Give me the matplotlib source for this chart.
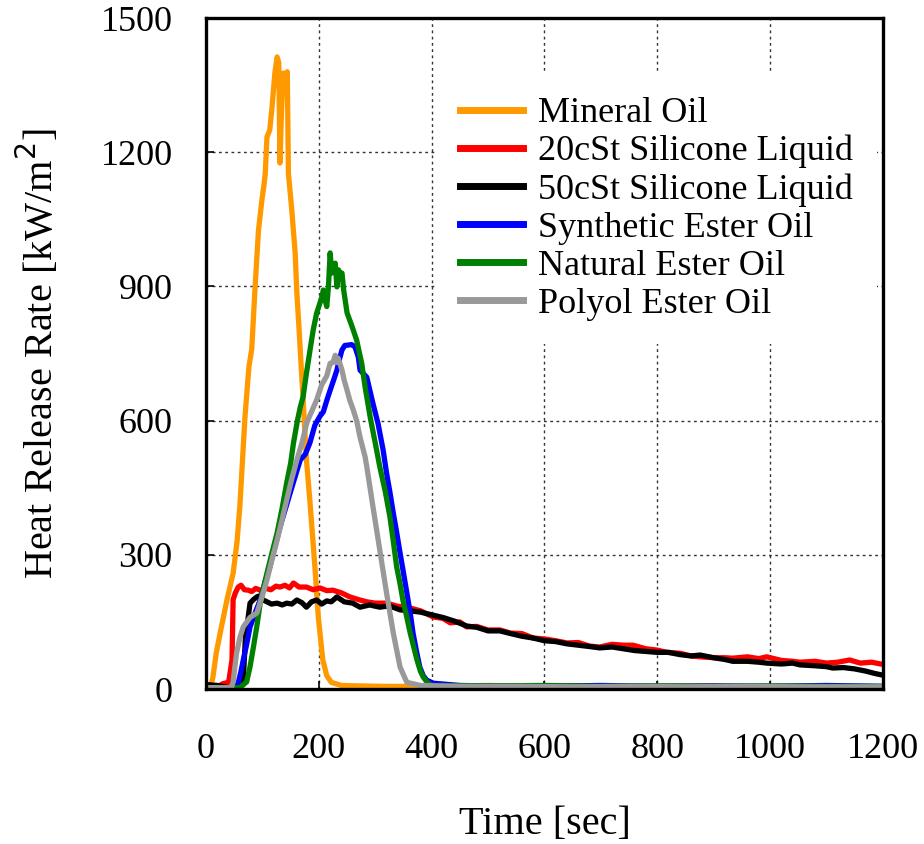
import matplotlib.pyplot as plt

# ---------------- data (time [s], HRR [kW/m2]) ----------------
mineral_t = [0, 8, 12, 18, 25, 37, 48, 55, 60, 69, 76, 81, 87, 93, 99, 103, 105, 108, 113,
             117, 122, 126, 129, 131, 134, 137, 140, 144, 146, 152, 158, 161, 165, 168, 172,
             178, 184, 193, 199, 207, 214, 222, 240, 270, 320, 400, 500, 600, 700, 800, 900,
             1000, 1100, 1200]
mineral_y = [5, 5, 25, 80, 125, 199, 259, 330, 410, 608, 720, 760, 900, 1026, 1093, 1130,
             1153, 1234, 1250, 1301, 1377, 1413, 1400, 1176, 1300, 1377, 1370, 1380, 1153,
             1071, 975, 885, 803, 735, 650, 512, 422, 273, 161, 65, 30, 15, 8, 7, 6, 6, 8, 6,
             7, 6, 7, 5, 5, 4]

sil20_t = [0, 20, 30, 40, 46, 48, 52, 57, 62, 68, 75, 81, 88, 96, 106, 115, 124, 131, 140,
           148, 155, 165, 178, 190, 202, 214, 225, 240, 255, 270, 285, 300, 320, 340, 356,
           380, 403, 420, 433, 450, 462, 480, 500, 521, 540, 560, 580, 600, 620, 640, 660,
           680, 698, 720, 740, 757, 780, 800, 817, 840, 860, 876, 900, 920, 934, 960, 980,
           994, 1020, 1040, 1053, 1080, 1100, 1120, 1141, 1160, 1180, 1200]
sil20_y = [8, 5, 12, 15, 65, 200, 215, 228, 232, 222, 221, 218, 225, 221, 225, 222, 230, 228,
           232, 226, 237, 228, 228, 222, 226, 220, 221, 215, 206, 200, 195, 192, 192, 185,
           183, 175, 161, 158, 148, 150, 139, 140, 132, 132, 125, 124, 114, 112, 108, 103,
           104, 96, 94, 100, 98, 98, 90, 87, 82, 80, 74, 72, 70, 70, 69, 72, 68, 72, 64, 62,
           60, 62, 58, 60, 65, 58, 60, 55]

sil50_t = [0, 20, 40, 60, 66, 70, 74, 78, 84, 90, 94, 100, 108, 116, 126, 135, 143, 152, 161,
           170, 178, 187, 196, 205, 214, 222, 232, 245, 260, 273, 290, 308, 325, 344, 360,
           380, 403, 420, 440, 462, 480, 500, 521, 540, 560, 580, 600, 620, 640, 660, 680,
           698, 720, 740, 760, 780, 800, 820, 840, 860, 876, 900, 920, 934, 960, 980, 994,
           1020, 1040, 1053, 1080, 1100, 1111, 1130, 1150, 1170, 1185, 1200]
sil50_y = [10, 8, 3, 3, 20, 120, 154, 192, 200, 206, 208, 200, 195, 190, 192, 188, 192, 190,
           199, 193, 183, 195, 199, 190, 197, 195, 206, 195, 192, 183, 188, 183, 186, 177,
           175, 172, 165, 160, 152, 141, 138, 130, 130, 124, 118, 114, 108, 106, 101, 98, 95,
           92, 94, 90, 86, 84, 82, 82, 77, 74, 76, 70, 66, 62, 62, 60, 58, 56, 58, 54, 52,
           50, 47, 48, 45, 40, 35, 31]

synth_t = [0, 50, 57, 62, 66, 72, 78, 87, 96, 104, 113, 122, 131, 140, 149, 158, 167, 176,
           184, 193, 202, 208, 214, 220, 226, 232, 236, 241, 246, 252, 258, 264, 270, 273,
           279, 285, 290, 296, 305, 314, 320, 326, 332, 338, 344, 350, 356, 362, 367, 373,
           379, 385, 391, 403, 450, 500, 600, 700, 800, 900, 1000, 1100, 1200]
synth_y = [3, 3, 13, 40, 65, 100, 139, 170, 199, 236, 273, 318, 362, 400, 438, 475, 512, 525,
           550, 590, 610, 620, 645, 668, 690, 713, 735, 758, 768, 769, 770, 765, 742, 713,
           705, 697, 670, 638, 593, 534, 483, 440, 393, 350, 304, 260, 215, 170, 125, 85, 49,
           30, 20, 13, 8, 7, 6, 8, 6, 7, 6, 8, 6]

natural_t = [0, 60, 72, 78, 84, 90, 96, 102, 108, 117, 126, 135, 143, 150, 155, 162, 167,
             172, 178, 184, 190, 196, 202, 206, 208, 211, 214, 217, 220, 223, 226, 229, 232,
             235, 238, 241, 244, 250, 259, 267, 276, 282, 291, 300, 308, 318, 326, 332, 338,
             344, 349, 356, 362, 368, 374, 380, 385, 392, 400, 500, 600, 700, 800, 900, 1000,
             1100, 1200]
natural_y = [3, 3, 16, 50, 94, 140, 192, 228, 259, 305, 349, 405, 461, 505, 550, 600, 630,
             653, 706, 755, 803, 840, 863, 880, 892, 870, 855, 900, 975, 930, 940, 952, 899,
             937, 925, 930, 892, 841, 810, 780, 728, 675, 608, 550, 497, 440, 385, 330, 273,
             235, 199, 160, 125, 95, 65, 40, 27, 15, 8, 7, 8, 6, 7, 6, 7, 6, 6]

polyol_t = [0, 45, 48, 54, 60, 66, 78, 90, 99, 108, 117, 126, 135, 143, 152, 161, 170, 179,
            187, 196, 205, 214, 220, 225, 229, 232, 234, 238, 241, 245, 250, 255, 261, 267,
            273, 282, 285, 296, 308, 320, 332, 344, 356, 380, 450, 550, 650, 750, 850, 950,
            1050, 1150, 1200]
polyol_y = [3, 3, 16, 80, 115, 139, 160, 170, 205, 244, 290, 333, 380, 423, 470, 512, 550,
            597, 620, 646, 680, 700, 728, 730, 746, 730, 740, 725, 713, 690, 668, 645, 624,
            600, 563, 519, 497, 407, 311, 215, 125, 49, 15, 8, 6, 6, 5, 6, 5, 6, 5, 5, 5]

series = [
    ('Mineral Oil', mineral_t, mineral_y, '#FF9900'),
    ('20cSt Silicone Liquid', sil20_t, sil20_y, '#FF0000'),
    ('50cSt Silicone Liquid', sil50_t, sil50_y, '#000000'),
    ('Synthetic Ester Oil', synth_t, synth_y, '#0000FF'),
    ('Natural Ester Oil', natural_t, natural_y, '#008000'),
    ('Polyol Ester Oil', polyol_t, polyol_y, '#999999'),
]

x_ticks = [0, 200, 400, 600, 800, 1000, 1200]
y_ticks = [0, 300, 600, 900, 1200, 1500]

# ---------------------------------------------------------------------------------------
plt.rcParams['font.family'] = ['Liberation Serif', 'DejaVu Serif']

fig = plt.figure(figsize=(9.24, 8.44), dpi=100)
ax = fig.add_axes([0.223, 0.1836, 0.7325, 0.795])

for label, t, y, color in series:
    ax.plot(t, y, color=color, linewidth=3.8, label=label, solid_joinstyle='round')

ax.set_xlim(0, 1200)
ax.set_ylim(0, 1500)
ax.set_xticks(x_ticks)
ax.set_yticks(y_ticks)
ax.tick_params(axis='both', direction='in', length=6, width=1.2, labelsize=26)
ax.tick_params(axis='x', pad=32)
ax.tick_params(axis='y', pad=24)

ax.set_axisbelow(True)
ax.grid(True, color='#333333', linestyle=(0, (2, 2.5)), linewidth=1.0)
for sp in ax.spines.values():
    sp.set_linewidth(2.4)

ax.set_xlabel('Time [sec]', fontsize=29)
ax.set_ylabel('Heat Release Rate [kW/m$^2$]', fontsize=29)
ax.xaxis.set_label_coords(0.5, -0.175)
ax.yaxis.set_label_coords(-0.213, 0.5)

# white box behind the legend hides the grid, as in the original
leg = ax.legend(loc='upper left', bbox_to_anchor=(0.3405, 0.9173), frameon=True,
                facecolor='white', edgecolor='none', framealpha=1, fancybox=False,
                fontsize=26, handlelength=1.75, handletextpad=0.42, labelspacing=0.13,
                borderpad=0.65, borderaxespad=0)
for h in leg.get_lines():
    h.set_linewidth(5)

fig.savefig('out.png', dpi=100)
